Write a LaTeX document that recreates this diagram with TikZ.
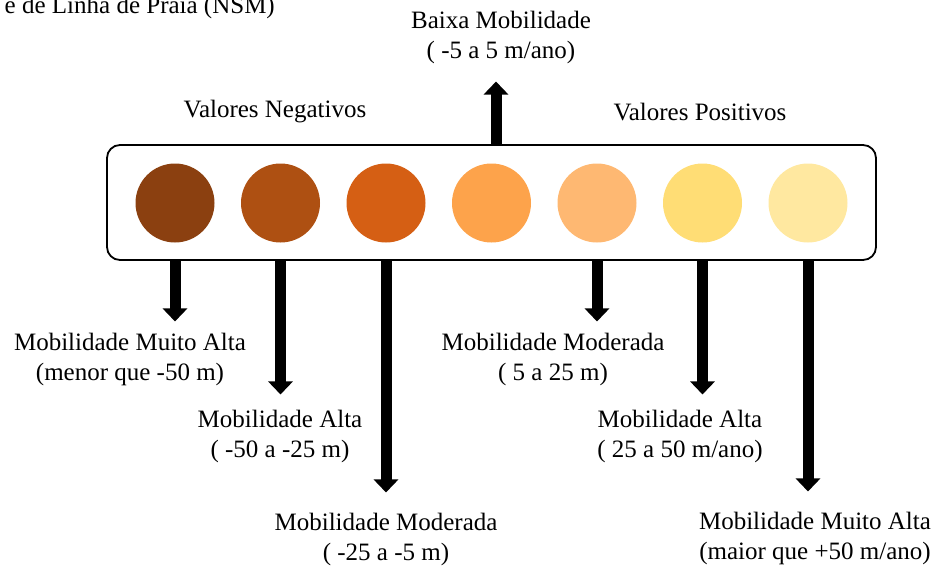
\documentclass[tikz,border=0pt]{standalone}
\usepackage{fontspec}
\setmainfont{Liberation Serif}
\usetikzlibrary{arrows.meta}
\definecolor{cor1}{HTML}{8B4010}
\definecolor{cor2}{HTML}{AE5012}
\definecolor{cor3}{HTML}{D55F14}
\definecolor{cor4}{HTML}{FDA34B}
\definecolor{cor5}{HTML}{FEB872}
\definecolor{cor6}{HTML}{FFDD75}
\definecolor{cor7}{HTML}{FFE8A0}
\tikzset{
  rotulo/.style = {align=center, inner sep=0pt,
    font=\fontsize{25}{30}\selectfont},% texto das classes
  bola/.style = {circle, inner sep=0pt, minimum size=79pt},% circulo de cor
  caixa/.style = {draw=black, line width=1.8pt, rounded corners=13pt,
    minimum width=769pt, minimum height=115pt},% moldura das cores
  seta/.style = {-{Triangle[width=24pt,length=13pt]}, line width=11pt}
}

\begin{document}
\begin{tikzpicture}[x=1pt,y=-1pt]
    \useasboundingbox (0,0) rectangle (940,568);
    \clip (0,0) rectangle (940,568);
    \node [rotulo, anchor=base east] (titulo) at (275,13) {e de Linha de Praia (NSM)};
    % caixa e cores
    \node [caixa] (barra) at (491.5,202.5) {};
    \node [bola, fill=cor1] (c1) at (175,203) {};
    \node [bola, fill=cor2] (c2) at (280.5,203) {};
    \node [bola, fill=cor3] (c3) at (386,203) {};
    \node [bola, fill=cor4] (c4) at (491.5,203) {};
    \node [bola, fill=cor5] (c5) at (597,203) {};
    \node [bola, fill=cor6] (c6) at (702.5,203) {};
    \node [bola, fill=cor7] (c7) at (808,203) {};
    \node [rotulo] (neg) at (275,112) {Valores Negativos};
    \node [rotulo] (pos) at (700,112) {Valores Positivos};
    % classes
    \node [rotulo] (baixa) at (501,37) {Baixa Mobilidade\\( -5 a 5 m/ano)};
    \node [rotulo] (m1) at (130,359) {Mobilidade Muito Alta\\(menor que -50 m)};
    \node [rotulo] (m2) at (280,436) {Mobilidade Alta\\( -50 a -25 m)};
    \node [rotulo] (m3) at (386,539) {Mobilidade Moderada\\( -25 a -5 m)};
    \node [rotulo] (m4) at (553,359) {Mobilidade Moderada\\( 5 a 25 m)};
    \node [rotulo] (m5) at (680,436) {Mobilidade Alta\\( 25 a 50 m/ano)};
    \node [rotulo] (m6) at (815,538) {Mobilidade Muito Alta\\(maior que +50 m/ano)};
    % setas
    \coordinate (topo) at (496,145);
    \draw [seta, shorten >=18pt] (topo) -- (baixa.south -| topo);
    \draw [seta, shorten >=11pt] (c1 |- barra.south) -- (m1.north -| c1);
    \draw [seta, shorten >=15pt] (c2 |- barra.south) -- (m2.north -| c2);
    \draw [seta, shorten >=20pt] (c3 |- barra.south) -- (m3.north -| c3);
    \draw [seta, shorten >=11pt] (c5 |- barra.south) -- (m4.north -| c5);
    \draw [seta, shorten >=15pt] (c6 |- barra.south) -- (m5.north -| c6);
    \draw [seta, shorten >=20pt] (c7 |- barra.south) -- (m6.north -| c7);
\end{tikzpicture}
\end{document}
